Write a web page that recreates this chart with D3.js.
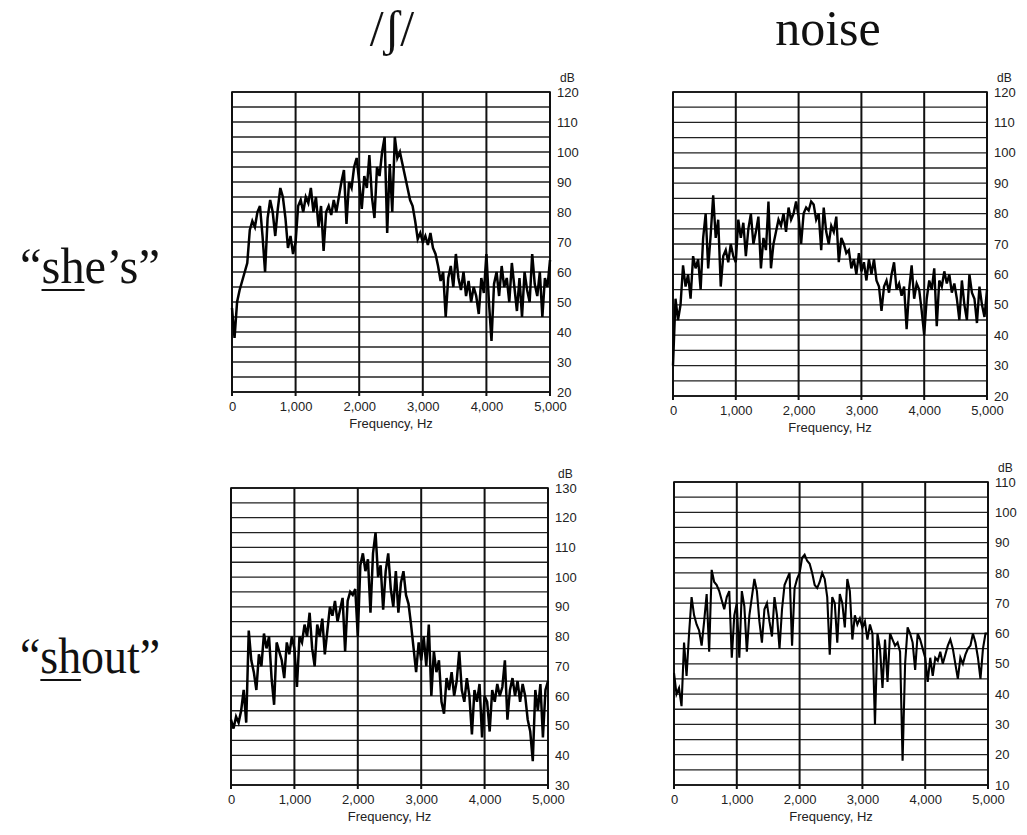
<!DOCTYPE html>
<html>
<head>
<meta charset="utf-8">
<script src="https://cdn.jsdelivr.net/npm/d3@7"></script>
<style>
  body { margin: 0; background: #fff; }
  svg { display: block; }
</style>
</head>
<body>
<script>
// spectra, one value (dB) every 40 Hz from 0 to 5000 Hz
const freqStep = 40;

const shesFricative = [48,38,50,54,57,60,63,74,77,75,80,82,72,60,78,84,80,72,81,88,85,78,68,72,66,70,
  82,84,80,85,83,88,80,85,75,82,67,80,82,79,84,80,85,90,94,76,90,88,95,98,90,81,92,88,99,85,78,95,92,100,
  105,73,96,80,105,98,100,96,92,88,84,82,77,71,73,70,72,69,73,68,66,62,57,60,45,58,62,55,66,58,54,60,52,
  57,50,55,52,46,58,53,66,50,37,56,60,52,62,55,58,50,63,55,47,58,45,60,54,50,66,56,52,60,45,58,55,64];

const shesNoise = [30,52,45,50,63,56,60,52,66,62,65,55,72,80,62,73,86,72,78,56,66,68,64,70,66,64,
  78,72,77,66,75,80,70,74,79,62,72,68,84,62,70,74,78,76,80,74,82,78,80,84,79,70,80,82,81,84,83,78,80,68,
  82,74,70,76,74,79,64,72,70,67,68,62,65,60,67,61,64,58,65,60,65,58,56,48,56,58,54,60,64,55,57,53,56,
  42,55,63,52,57,55,48,40,52,58,55,62,43,58,56,61,57,60,54,57,52,45,58,50,45,60,54,52,44,56,50,46,55];

const shoutFricative = [52,49,53,51,55,62,51,82,72,68,62,74,70,81,76,80,66,57,78,75,72,66,78,74,80,76,
  63,80,78,84,80,88,76,70,84,80,86,74,82,90,87,92,85,89,93,75,92,95,94,96,80,104,108,102,106,88,108,115,100,104,
  89,102,108,96,90,102,88,98,102,94,91,84,76,68,78,72,80,70,84,60,75,68,72,58,54,66,62,68,60,65,75,62,58,
  66,60,47,62,58,64,46,60,58,48,62,58,64,60,63,72,52,62,66,60,65,58,64,60,52,48,38,62,55,64,46,62,65];

const shoutNoise = [47,40,42,36,57,46,60,72,66,63,61,56,64,73,54,81,77,76,74,71,68,72,74,52,66,70,
  52,74,69,54,66,72,78,74,64,57,68,70,64,59,72,66,55,68,76,78,80,56,75,78,80,85,86,84,83,80,76,75,77,80,
  78,72,53,72,70,57,73,70,62,78,74,58,66,63,65,62,64,58,63,60,30,60,55,42,58,44,60,58,56,57,54,18,50,
  62,60,57,48,60,58,55,52,44,52,46,52,51,54,50,53,56,58,55,50,45,52,50,53,55,56,60,57,52,45,55,60,60];

const freqTicks = [0, 1000, 2000, 3000, 4000, 5000];
const dbRanges = [[20, 120], [20, 120], [30, 130], [10, 110]];
const columnTitles = ["/\u0283/", "noise"];
const rowLabels = ["\u201Cshe\u2019s\u201D", "\u201Cshout\u201D"];

const series = [shesFricative, shesNoise, shoutFricative, shoutNoise];

let width = 1027;
let height = 835;

// pixel box of each panel
let panels = [
  {left: 232, right: 550, top: 92, bottom: 392, lw: 2.5},
  {left: 673, right: 987, top: 92, bottom: 396, lw: 2.4},
  {left: 231, right: 548, top: 488, bottom: 785, lw: 2.5},
  {left: 674, right: 988, top: 482, bottom: 785, lw: 2.1}
];

let svg = d3.select("body").append("svg")
  .attr("width", width)
  .attr("height", height);

let fmt = d3.format(",");

panels.forEach(function(p, k) {
  let values = series[k];
  let dom = dbRanges[k];

  let x = d3.scaleLinear().domain([0, 5000]).range([p.left, p.right]);
  let y = d3.scaleLinear().domain(dom).range([p.bottom, p.top]);

  let g = svg.append("g");

  // horizontal grid every 5 dB
  g.selectAll("line.h")
    .data(d3.range(dom[0], dom[1] + 1, 5))
    .join("line")
    .attr("x1", p.left).attr("x2", p.right)
    .attr("y1", d => y(d)).attr("y2", d => y(d))
    .attr("stroke", "#222")
    .attr("stroke-width", 1.3);

  // vertical grid at each 1000 Hz, with a small tick under the axis
  g.selectAll("line.v")
    .data(freqTicks)
    .join("line")
    .attr("x1", d => x(d)).attr("x2", d => x(d))
    .attr("y1", p.top).attr("y2", p.bottom + 4)
    .attr("stroke", "#111")
    .attr("stroke-width", 2);

  g.append("rect")
    .attr("x", p.left).attr("y", p.top)
    .attr("width", p.right - p.left).attr("height", p.bottom - p.top)
    .attr("fill", "none")
    .attr("stroke", "#111")
    .attr("stroke-width", 1.6);

  // spectrum
  let line = d3.line()
    .x((d, i) => x(i * freqStep))
    .y(d => y(d));

  g.append("path")
    .datum(values)
    .attr("d", line)
    .attr("fill", "none")
    .attr("stroke", "#000")
    .attr("stroke-width", p.lw)
    .attr("stroke-linejoin", "miter");

  // dB labels on the right
  let yAxis = d3.axisRight(y).tickValues(d3.range(dom[0], dom[1] + 1, 10)).tickSize(0).tickPadding(7);
  let ay = g.append("g")
    .attr("transform", "translate(" + p.right + ",0)")
    .call(yAxis);
  ay.select(".domain").remove();
  ay.selectAll("text")
    .style("font-family", "Liberation Sans, Arial, sans-serif")
    .style("font-size", "13px")
    .attr("fill", "#222");

  g.append("text")
    .attr("x", p.right + 10)
    .attr("y", p.top - 10)
    .style("font-family", "Liberation Sans, Arial, sans-serif")
    .style("font-size", "12px")
    .attr("fill", "#222")
    .text("dB");

  // frequency labels
  let xAxis = d3.axisBottom(x).tickValues(freqTicks).tickFormat(fmt).tickSize(0).tickPadding(10);
  let ax = g.append("g")
    .attr("transform", "translate(0," + p.bottom + ")")
    .call(xAxis);
  ax.select(".domain").remove();
  ax.selectAll("text")
    .style("font-family", "Liberation Sans, Arial, sans-serif")
    .style("font-size", "13px")
    .attr("fill", "#222");

  g.append("text")
    .attr("x", (p.left + p.right) / 2)
    .attr("y", p.bottom + 36)
    .attr("text-anchor", "middle")
    .style("font-family", "Liberation Sans, Arial, sans-serif")
    .style("font-size", "13px")
    .attr("fill", "#222")
    .text("Frequency, Hz");
});

// column titles
let titleX = [392, 828];
columnTitles.forEach(function(t, i) {
  svg.append("text")
    .attr("x", titleX[i])
    .attr("y", 45)
    .attr("text-anchor", "middle")
    .style("font-family", "Liberation Serif, Times New Roman, serif")
    .style("font-size", "50px")
    .attr("fill", "#111")
    .text(t);
});

// row labels, "sh" underlined
let rowY = [283, 673];
rowLabels.forEach(function(t, i) {
  let txt = svg.append("text")
    .attr("x", 20)
    .attr("y", rowY[i])
    .attr("textLength", 140)
    .attr("lengthAdjust", "spacingAndGlyphs")
    .style("font-family", "Liberation Serif, Times New Roman, serif")
    .style("font-size", "50px")
    .attr("fill", "#111")
    .text(t);
  let n = txt.node();
  let x1 = n.getStartPositionOfChar(1).x;
  let x2 = n.getEndPositionOfChar(2).x;
  svg.append("line")
    .attr("x1", x1).attr("x2", x2)
    .attr("y1", rowY[i] + 7).attr("y2", rowY[i] + 7)
    .attr("stroke", "#111")
    .attr("stroke-width", 2.2);
});
</script>
</body>
</html>
